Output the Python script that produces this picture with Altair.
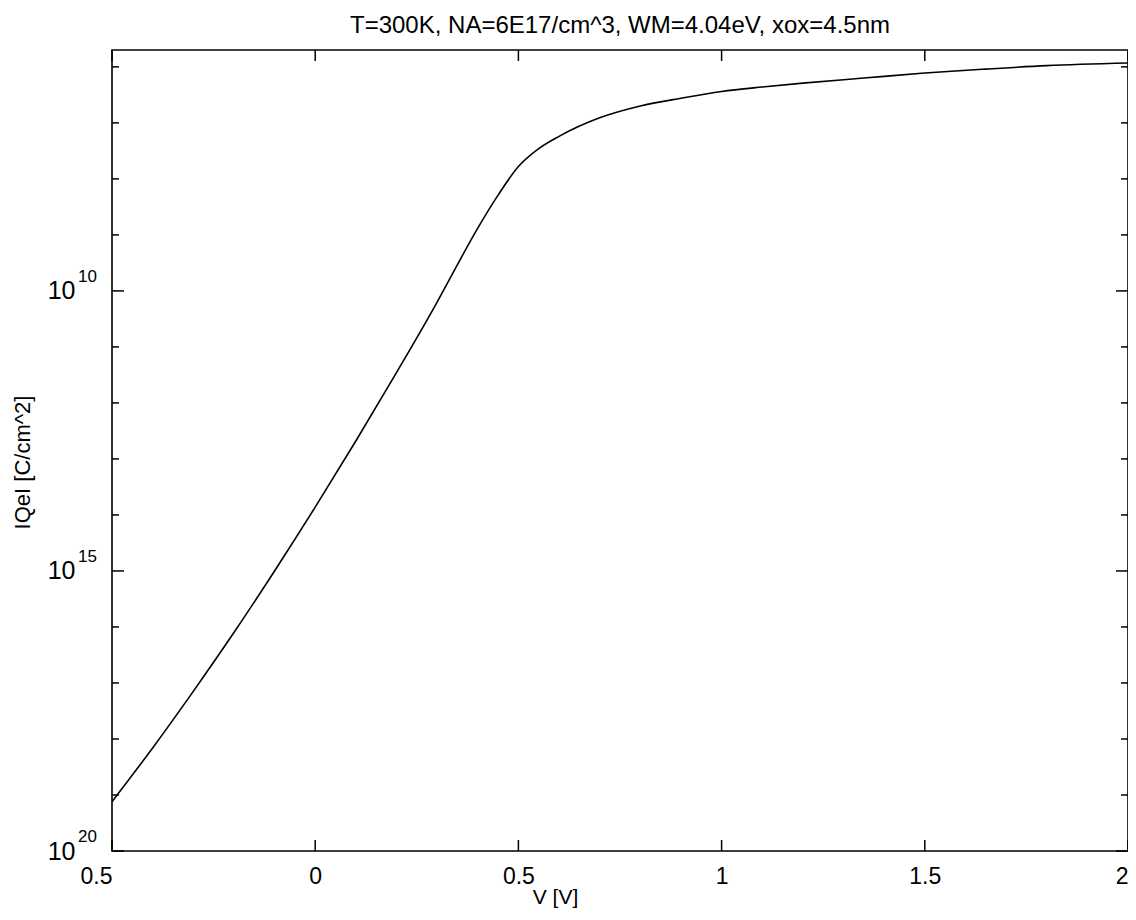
import altair as alt
import pandas as pd

# ---- data ----
v_vals = [-0.5, -0.4, -0.3, -0.2, -0.1, 0.0, 0.1, 0.2, 0.3, 0.35, 0.4, 0.45, 0.5,
          0.55, 0.6, 0.7, 0.8, 0.9, 1.0, 1.1, 1.2, 1.35, 1.5, 1.65, 1.8, 2.0]
qe_vals = [7.59e-20, 6.92e-19, 7.08e-18, 7.94e-17, 1.0e-15, 1.38e-14, 2.09e-13,
           3.47e-12, 6.31e-11, 2.95e-10, 1.32e-9, 5.13e-9, 1.66e-8, 3.47e-8,
           5.75e-8, 1.23e-7, 2.0e-7, 2.75e-7, 3.63e-7, 4.37e-7, 5.13e-7, 6.31e-7,
           7.76e-7, 9.12e-7, 1.05e-6, 1.17e-6]

x_tick_vals = [-0.5, 0, 0.5, 1, 1.5, 2]
y_major_vals = [1e-20, 1e-15, 1e-10]
y_exp_labels = ["20", "15", "10"]
y_minor_vals = [1e-19, 1e-18, 1e-17, 1e-16, 1e-14, 1e-13, 1e-12, 1e-11,
                1e-9, 1e-8, 1e-7, 1e-6]

title_text = "T=300K, NA=6E17/cm^3, WM=4.04eV, xox=4.5nm"
x_title = "V [V]"
y_title = "IQeI [C/cm^2]"

FONT = "Liberation Sans"
W, H = 1016, 801
MAJ, MIN, XT = 12, 7, 11

xscale = alt.Scale(domain=[-0.5, 2], nice=False, zero=False)
yscale = alt.Scale(type="log", domain=[1e-20, 2e-6], nice=False)

df = pd.DataFrame({"V": v_vals, "Qe": qe_vals})
df_ymaj = pd.DataFrame({"Qe": y_major_vals, "e": y_exp_labels})
df_ymin = pd.DataFrame({"Qe": y_minor_vals})
df_xt = pd.DataFrame({"V": x_tick_vals})

x_label_align = {
    "condition": [
        {"test": "datum.value <= -0.5", "value": "right"},
        {"test": "datum.value >= 2", "value": "right"},
    ],
    "value": "center",
}

line = alt.Chart(df).mark_line(color="black", strokeWidth=1.6, interpolate="monotone").encode(
    x=alt.X("V:Q", scale=xscale,
            axis=alt.Axis(values=x_tick_vals, title=x_title,
                          labelExpr="format(abs(datum.value), '~g')",
                          labelAlign=x_label_align,
                          ticks=False, tickSize=0, domain=False, grid=False,
                          labelFlush=False, labelPadding=14, labelFontSize=23,
                          titleX=443, titleY=46, titleBaseline="middle", titleAlign="center",
                          titleFontSize=21, titleFontWeight="normal")),
    y=alt.Y("Qe:Q", scale=yscale,
            axis=alt.Axis(values=y_major_vals, title=y_title, labelExpr="'10'",
                          ticks=False, tickSize=0, domain=False, grid=False,
                          labelPadding=37, labelFontSize=25,
                          titleX=-90, titleY=412, titleBaseline="middle", titleAlign="center",
                          titleAngle=-90, titleFontSize=22, titleFontWeight="normal")),
)

exps = alt.Chart(df_ymaj).mark_text(align="left", baseline="middle", fontSize=17, font=FONT,
                                    color="black", dy=-14).encode(
    y=alt.Y("Qe:Q", scale=yscale), x=alt.value(-34), text="e:N")

def yrule(data, x0, x1):
    return alt.Chart(data).mark_rule(color="black", strokeWidth=1.5).encode(
        y=alt.Y("Qe:Q", scale=yscale), x=alt.value(x0), x2=alt.value(x1))

def xrule(y0, y1):
    return alt.Chart(df_xt).mark_rule(color="black", strokeWidth=1.5).encode(
        x=alt.X("V:Q", scale=xscale), y=alt.value(y0), y2=alt.value(y1))

ticks = [
    yrule(df_ymaj, 0, MAJ), yrule(df_ymaj, W, W - MAJ),
    yrule(df_ymin, 0, MIN), yrule(df_ymin, W, W - MIN),
    xrule(H, H - XT), xrule(0, XT),
]

chart = alt.layer(line, exps, *ticks).properties(
    width=W, height=H,
    title=alt.TitleParams(title_text, font=FONT, fontSize=24, fontWeight="normal",
                          anchor="middle", frame="group", baseline="bottom", offset=-13,
                          color="black"),
    autosize=alt.AutoSizeParams(type="none"),
    padding={"left": 104, "top": 42, "right": 0, "bottom": 60},
).configure(background="white").configure_view(
    stroke="black", strokeWidth=1.6
).configure_axis(
    labelFont=FONT, titleFont=FONT, labelColor="black", titleColor="black"
)

chart.save("out.html", embed_options={"renderer": "svg", "actions": False})
